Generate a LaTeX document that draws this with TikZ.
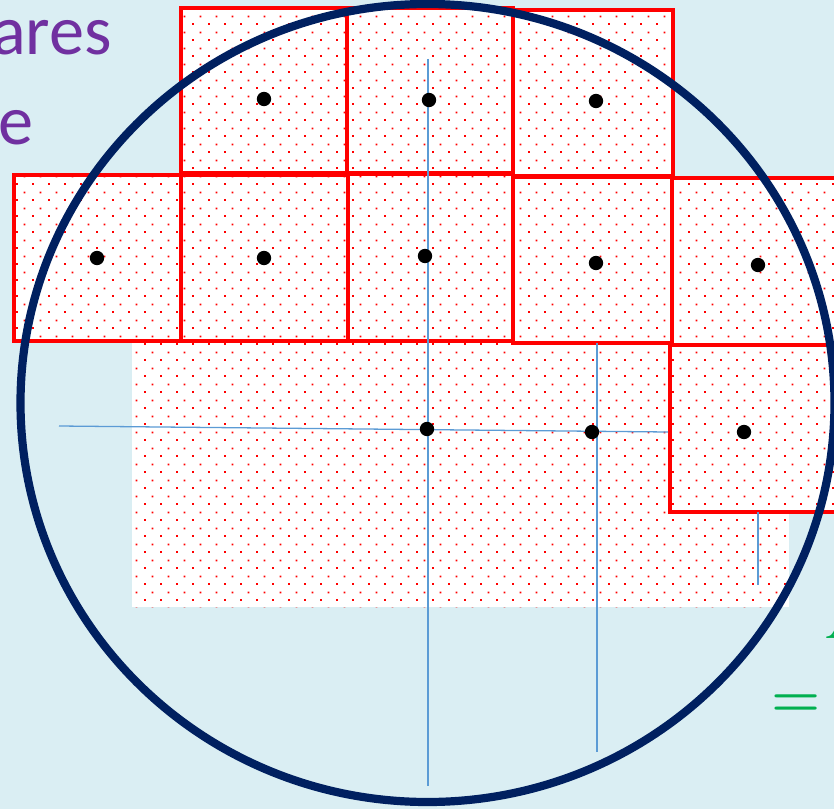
\documentclass[tikz,border=0pt]{standalone}
\usepackage{fontspec}
\newfontfamily\calibri{Carlito}
\usepackage{tikz}
\usetikzlibrary{patterns.meta}
\definecolor{cbg}{HTML}{DAEEF3}
\definecolor{cnavy}{HTML}{002060}
\definecolor{cpurple}{HTML}{7030A0}
\definecolor{cgreen}{HTML}{00B050}
\definecolor{caxis}{HTML}{5B9BD5}

\tikzdeclarepattern{
  name=reddots,
  bounding box={(0pt,0pt) and (13.66pt,13.66pt)},
  tile size={(13.66pt,13.66pt)},
  code={
    \fill (0pt,0pt) rectangle (1.7pt,1.7pt);
    \fill (6.83pt,6.83pt) rectangle (8.53pt,8.53pt);
  }
}

\begin{document}
\begin{tikzpicture}[x=0.3mm,y=-0.3mm,
      dotfill/.style={fill=white,postaction={pattern=reddots,pattern color=red}},
      cell/.style={draw=red,line width=3.6pt},
      axis/.style={draw=caxis,line width=1.1pt},
      ctr/.style={circle,fill=black,inner sep=0pt,minimum size=4.3mm},
      ttl/.style={text=cpurple,inner sep=0pt,font=\calibri\fontsize{60}{60}\selectfont},
      eqn/.style={text=cgreen,inner sep=0pt,font=\fontsize{48}{48}\selectfont}]

    \useasboundingbox (0,0) rectangle (834,809);
    \clip (0,0) rectangle (834,809);
    \fill[cbg] (0,0) rectangle (834,809);

    % dotted area under the cells
    \path[dotfill] (132,341) rectangle (789,607);

    % cells: fill first, then outlines
    \foreach \xa/\ya/\xb/\yb in {181/8/347/173, 347/8/513/173, 513/10/673/176,
        14/175/181/341, 181/175/348/341, 348/174/513/341, 513/177/672/343,
        672/178/870/345, 670/345/870/512}
      \path[dotfill] (\xa,\ya) rectangle (\xb,\yb);
    \foreach \xa/\ya/\xb/\yb in {181/8/347/173, 347/8/513/173, 513/10/673/176,
        14/175/181/341, 181/175/348/341, 348/174/513/341, 513/177/672/343,
        672/178/870/345, 670/345/870/512}
      \draw[cell] (\xa,\ya) rectangle (\xb,\yb);

    % axes
    \coordinate (vtop) at (428,59);
    \coordinate (vbot) at (428,786);
    \coordinate (hleft) at (59,426);
    \coordinate (hright) at (668,432);
    \coordinate (ptop) at (597,343);
    \coordinate (pbot) at (597,752);
    \coordinate (rtop) at (758,512);
    \coordinate (rbot) at (758,585);
    \draw[axis] (vtop) -- (vbot);
    \draw[axis] (hleft) -- (hright);
    \draw[axis] (ptop) -- (pbot);
    \draw[axis] (rtop) -- (rbot);

    % centres
    \foreach \n/\x/\y in {t1/264/99, t2/429/100, t3/596/101,
        m1/97/258, m2/264/258, m3/425/256, m4/596/263, m5/758/265,
        r1/744/432, o/427/429, p/592/432}
      \node[ctr] (\n) at (\x,\y) {};

    % circle
    \draw[cnavy,line width=7pt] (427.5,403) ellipse [x radius=407, y radius=399];

    \node[ttl,anchor=base east] (ttlA) at (112,55) {ares};
    \node[ttl,anchor=base east] (ttlB) at (34,145) {e};
    \node[eqn,anchor=base west] (eqA) at (823,638) {\itshape A};
    \node[eqn,anchor=base] (eqB) at (796,716) {\bfseries =};
  \end{tikzpicture}
\end{document}
